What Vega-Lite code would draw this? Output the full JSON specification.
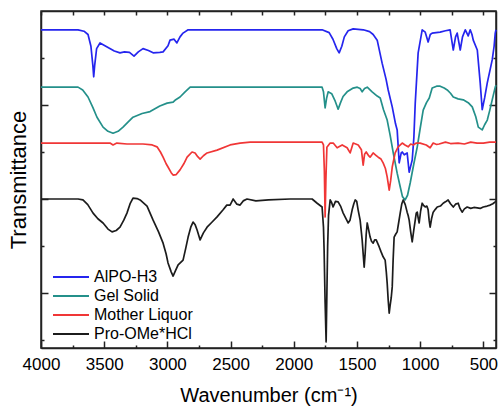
{
  "$schema": "https://vega.github.io/schema/vega-lite/v6.json",
  "description": "FTIR spectra of AlPO-H3, the gel solid, the mother liquor and Pro-OMe*HCl.",
  "width": 455,
  "height": 337,
  "autosize": {"type": "none"},
  "padding": {"left": 41, "top": 11, "right": 3, "bottom": 58},
  "background": "white",
  "config": {
    "font": "Liberation Sans",
    "view": {"stroke": "#222222", "strokeWidth": 1.5},
    "axis": {
      "grid": false,
      "domainColor": "#222222",
      "domainWidth": 1.5,
      "tickColor": "#222222",
      "tickWidth": 1.5,
      "labelFont": "Liberation Sans",
      "labelColor": "black",
      "labelFlush": false,
      "titleFont": "Liberation Sans",
      "titleColor": "black",
      "titleFontWeight": "normal"
    }
  },
  "data": {
    "values": [
      {"sample": "AlPO-H3", "wn": 4000, "t": 66.0},
      {"sample": "AlPO-H3", "wn": 3800, "t": 66.0},
      {"sample": "AlPO-H3", "wn": 3707, "t": 66.0},
      {"sample": "AlPO-H3", "wn": 3660, "t": 65.7},
      {"sample": "AlPO-H3", "wn": 3628, "t": 65.0},
      {"sample": "AlPO-H3", "wn": 3605, "t": 62.5},
      {"sample": "AlPO-H3", "wn": 3590, "t": 58.5},
      {"sample": "AlPO-H3", "wn": 3583, "t": 56.0},
      {"sample": "AlPO-H3", "wn": 3575, "t": 58.5},
      {"sample": "AlPO-H3", "wn": 3560, "t": 62.0},
      {"sample": "AlPO-H3", "wn": 3533, "t": 63.2},
      {"sample": "AlPO-H3", "wn": 3480, "t": 62.4},
      {"sample": "AlPO-H3", "wn": 3420, "t": 61.5},
      {"sample": "AlPO-H3", "wn": 3375, "t": 61.1},
      {"sample": "AlPO-H3", "wn": 3340, "t": 61.3},
      {"sample": "AlPO-H3", "wn": 3300, "t": 61.2},
      {"sample": "AlPO-H3", "wn": 3264, "t": 60.4},
      {"sample": "AlPO-H3", "wn": 3230, "t": 61.3},
      {"sample": "AlPO-H3", "wn": 3193, "t": 62.0},
      {"sample": "AlPO-H3", "wn": 3150, "t": 61.6},
      {"sample": "AlPO-H3", "wn": 3113, "t": 61.1},
      {"sample": "AlPO-H3", "wn": 3060, "t": 61.2},
      {"sample": "AlPO-H3", "wn": 3034, "t": 61.3},
      {"sample": "AlPO-H3", "wn": 2995, "t": 62.6},
      {"sample": "AlPO-H3", "wn": 2979, "t": 63.8},
      {"sample": "AlPO-H3", "wn": 2947, "t": 64.0},
      {"sample": "AlPO-H3", "wn": 2925, "t": 63.2},
      {"sample": "AlPO-H3", "wn": 2900, "t": 64.5},
      {"sample": "AlPO-H3", "wn": 2876, "t": 65.3},
      {"sample": "AlPO-H3", "wn": 2836, "t": 66.0},
      {"sample": "AlPO-H3", "wn": 2500, "t": 66.0},
      {"sample": "AlPO-H3", "wn": 2000, "t": 66.0},
      {"sample": "AlPO-H3", "wn": 1776, "t": 66.0},
      {"sample": "AlPO-H3", "wn": 1720, "t": 65.4},
      {"sample": "AlPO-H3", "wn": 1690, "t": 64.0},
      {"sample": "AlPO-H3", "wn": 1660, "t": 62.0},
      {"sample": "AlPO-H3", "wn": 1641, "t": 61.1},
      {"sample": "AlPO-H3", "wn": 1620, "t": 62.5},
      {"sample": "AlPO-H3", "wn": 1600, "t": 64.5},
      {"sample": "AlPO-H3", "wn": 1570, "t": 65.8},
      {"sample": "AlPO-H3", "wn": 1530, "t": 66.2},
      {"sample": "AlPO-H3", "wn": 1450, "t": 66.0},
      {"sample": "AlPO-H3", "wn": 1400, "t": 65.6},
      {"sample": "AlPO-H3", "wn": 1372, "t": 65.0},
      {"sample": "AlPO-H3", "wn": 1340, "t": 63.8},
      {"sample": "AlPO-H3", "wn": 1301, "t": 58.9},
      {"sample": "AlPO-H3", "wn": 1270, "t": 55.5},
      {"sample": "AlPO-H3", "wn": 1253, "t": 53.2},
      {"sample": "AlPO-H3", "wn": 1221, "t": 49.6},
      {"sample": "AlPO-H3", "wn": 1195, "t": 46.0},
      {"sample": "AlPO-H3", "wn": 1182, "t": 44.7},
      {"sample": "AlPO-H3", "wn": 1166, "t": 37.7},
      {"sample": "AlPO-H3", "wn": 1150, "t": 39.8},
      {"sample": "AlPO-H3", "wn": 1142, "t": 40.0},
      {"sample": "AlPO-H3", "wn": 1126, "t": 39.4},
      {"sample": "AlPO-H3", "wn": 1103, "t": 39.8},
      {"sample": "AlPO-H3", "wn": 1087, "t": 35.7},
      {"sample": "AlPO-H3", "wn": 1075, "t": 37.0},
      {"sample": "AlPO-H3", "wn": 1063, "t": 38.3},
      {"sample": "AlPO-H3", "wn": 1050, "t": 43.0},
      {"sample": "AlPO-H3", "wn": 1039, "t": 50.4},
      {"sample": "AlPO-H3", "wn": 1016, "t": 61.1},
      {"sample": "AlPO-H3", "wn": 984, "t": 66.0},
      {"sample": "AlPO-H3", "wn": 960, "t": 65.5},
      {"sample": "AlPO-H3", "wn": 937, "t": 63.4},
      {"sample": "AlPO-H3", "wn": 920, "t": 65.0},
      {"sample": "AlPO-H3", "wn": 905, "t": 65.3},
      {"sample": "AlPO-H3", "wn": 842, "t": 65.5},
      {"sample": "AlPO-H3", "wn": 800, "t": 65.8},
      {"sample": "AlPO-H3", "wn": 763, "t": 66.0},
      {"sample": "AlPO-H3", "wn": 738, "t": 61.7},
      {"sample": "AlPO-H3", "wn": 720, "t": 64.5},
      {"sample": "AlPO-H3", "wn": 707, "t": 65.3},
      {"sample": "AlPO-H3", "wn": 683, "t": 61.7},
      {"sample": "AlPO-H3", "wn": 665, "t": 64.5},
      {"sample": "AlPO-H3", "wn": 643, "t": 66.0},
      {"sample": "AlPO-H3", "wn": 620, "t": 64.7},
      {"sample": "AlPO-H3", "wn": 604, "t": 66.0},
      {"sample": "AlPO-H3", "wn": 590, "t": 65.0},
      {"sample": "AlPO-H3", "wn": 580, "t": 63.8},
      {"sample": "AlPO-H3", "wn": 548, "t": 61.7},
      {"sample": "AlPO-H3", "wn": 525, "t": 54.7},
      {"sample": "AlPO-H3", "wn": 509, "t": 49.0},
      {"sample": "AlPO-H3", "wn": 490, "t": 51.5},
      {"sample": "AlPO-H3", "wn": 469, "t": 54.7},
      {"sample": "AlPO-H3", "wn": 430, "t": 59.6},
      {"sample": "AlPO-H3", "wn": 415, "t": 62.5},
      {"sample": "AlPO-H3", "wn": 406, "t": 65.3},
      {"sample": "AlPO-H3", "wn": 400, "t": 66.0},

      {"sample": "Gel Solid", "wn": 4000, "t": 53.8},
      {"sample": "Gel Solid", "wn": 3800, "t": 53.8},
      {"sample": "Gel Solid", "wn": 3707, "t": 53.8},
      {"sample": "Gel Solid", "wn": 3670, "t": 53.2},
      {"sample": "Gel Solid", "wn": 3628, "t": 51.7},
      {"sample": "Gel Solid", "wn": 3590, "t": 49.5},
      {"sample": "Gel Solid", "wn": 3557, "t": 47.4},
      {"sample": "Gel Solid", "wn": 3509, "t": 45.3},
      {"sample": "Gel Solid", "wn": 3470, "t": 44.4},
      {"sample": "Gel Solid", "wn": 3430, "t": 44.0},
      {"sample": "Gel Solid", "wn": 3390, "t": 44.4},
      {"sample": "Gel Solid", "wn": 3351, "t": 45.3},
      {"sample": "Gel Solid", "wn": 3310, "t": 46.4},
      {"sample": "Gel Solid", "wn": 3272, "t": 47.4},
      {"sample": "Gel Solid", "wn": 3200, "t": 48.2},
      {"sample": "Gel Solid", "wn": 3137, "t": 48.6},
      {"sample": "Gel Solid", "wn": 3060, "t": 49.8},
      {"sample": "Gel Solid", "wn": 3002, "t": 50.4},
      {"sample": "Gel Solid", "wn": 2955, "t": 50.6},
      {"sample": "Gel Solid", "wn": 2940, "t": 51.0},
      {"sample": "Gel Solid", "wn": 2900, "t": 51.7},
      {"sample": "Gel Solid", "wn": 2860, "t": 52.8},
      {"sample": "Gel Solid", "wn": 2820, "t": 53.8},
      {"sample": "Gel Solid", "wn": 2500, "t": 53.8},
      {"sample": "Gel Solid", "wn": 2000, "t": 53.8},
      {"sample": "Gel Solid", "wn": 1776, "t": 53.8},
      {"sample": "Gel Solid", "wn": 1765, "t": 52.8},
      {"sample": "Gel Solid", "wn": 1752, "t": 49.4},
      {"sample": "Gel Solid", "wn": 1740, "t": 51.5},
      {"sample": "Gel Solid", "wn": 1728, "t": 52.8},
      {"sample": "Gel Solid", "wn": 1700, "t": 52.4},
      {"sample": "Gel Solid", "wn": 1675, "t": 51.0},
      {"sample": "Gel Solid", "wn": 1649, "t": 49.1},
      {"sample": "Gel Solid", "wn": 1630, "t": 50.5},
      {"sample": "Gel Solid", "wn": 1610, "t": 51.8},
      {"sample": "Gel Solid", "wn": 1578, "t": 52.8},
      {"sample": "Gel Solid", "wn": 1530, "t": 53.6},
      {"sample": "Gel Solid", "wn": 1498, "t": 53.8},
      {"sample": "Gel Solid", "wn": 1475, "t": 53.5},
      {"sample": "Gel Solid", "wn": 1459, "t": 52.8},
      {"sample": "Gel Solid", "wn": 1440, "t": 53.5},
      {"sample": "Gel Solid", "wn": 1419, "t": 53.8},
      {"sample": "Gel Solid", "wn": 1380, "t": 52.8},
      {"sample": "Gel Solid", "wn": 1340, "t": 51.9},
      {"sample": "Gel Solid", "wn": 1316, "t": 51.5},
      {"sample": "Gel Solid", "wn": 1290, "t": 49.0},
      {"sample": "Gel Solid", "wn": 1261, "t": 46.8},
      {"sample": "Gel Solid", "wn": 1237, "t": 43.5},
      {"sample": "Gel Solid", "wn": 1213, "t": 39.8},
      {"sample": "Gel Solid", "wn": 1182, "t": 35.5},
      {"sample": "Gel Solid", "wn": 1158, "t": 32.6},
      {"sample": "Gel Solid", "wn": 1140, "t": 30.5},
      {"sample": "Gel Solid", "wn": 1119, "t": 29.8},
      {"sample": "Gel Solid", "wn": 1100, "t": 30.8},
      {"sample": "Gel Solid", "wn": 1079, "t": 33.4},
      {"sample": "Gel Solid", "wn": 1050, "t": 37.5},
      {"sample": "Gel Solid", "wn": 1023, "t": 41.1},
      {"sample": "Gel Solid", "wn": 1000, "t": 45.0},
      {"sample": "Gel Solid", "wn": 976, "t": 48.9},
      {"sample": "Gel Solid", "wn": 950, "t": 50.5},
      {"sample": "Gel Solid", "wn": 928, "t": 51.5},
      {"sample": "Gel Solid", "wn": 905, "t": 53.6},
      {"sample": "Gel Solid", "wn": 870, "t": 54.0},
      {"sample": "Gel Solid", "wn": 842, "t": 54.0},
      {"sample": "Gel Solid", "wn": 810, "t": 53.6},
      {"sample": "Gel Solid", "wn": 786, "t": 53.2},
      {"sample": "Gel Solid", "wn": 760, "t": 52.5},
      {"sample": "Gel Solid", "wn": 738, "t": 51.7},
      {"sample": "Gel Solid", "wn": 700, "t": 51.3},
      {"sample": "Gel Solid", "wn": 659, "t": 51.1},
      {"sample": "Gel Solid", "wn": 620, "t": 50.5},
      {"sample": "Gel Solid", "wn": 588, "t": 49.6},
      {"sample": "Gel Solid", "wn": 560, "t": 47.5},
      {"sample": "Gel Solid", "wn": 540, "t": 45.3},
      {"sample": "Gel Solid", "wn": 509, "t": 44.7},
      {"sample": "Gel Solid", "wn": 490, "t": 45.8},
      {"sample": "Gel Solid", "wn": 469, "t": 46.8},
      {"sample": "Gel Solid", "wn": 450, "t": 48.8},
      {"sample": "Gel Solid", "wn": 430, "t": 51.1},
      {"sample": "Gel Solid", "wn": 406, "t": 53.8},
      {"sample": "Gel Solid", "wn": 400, "t": 54.2},

      {"sample": "Mother Liquor", "wn": 4000, "t": 41.9},
      {"sample": "Mother Liquor", "wn": 3600, "t": 41.9},
      {"sample": "Mother Liquor", "wn": 3454, "t": 41.9},
      {"sample": "Mother Liquor", "wn": 3430, "t": 41.5},
      {"sample": "Mother Liquor", "wn": 3400, "t": 41.9},
      {"sample": "Mother Liquor", "wn": 3320, "t": 41.7},
      {"sample": "Mother Liquor", "wn": 3193, "t": 41.7},
      {"sample": "Mother Liquor", "wn": 3120, "t": 41.5},
      {"sample": "Mother Liquor", "wn": 3082, "t": 41.1},
      {"sample": "Mother Liquor", "wn": 3055, "t": 40.0},
      {"sample": "Mother Liquor", "wn": 3034, "t": 38.9},
      {"sample": "Mother Liquor", "wn": 3010, "t": 37.5},
      {"sample": "Mother Liquor", "wn": 2995, "t": 36.8},
      {"sample": "Mother Liquor", "wn": 2970, "t": 35.6},
      {"sample": "Mother Liquor", "wn": 2955, "t": 35.1},
      {"sample": "Mother Liquor", "wn": 2930, "t": 35.2},
      {"sample": "Mother Liquor", "wn": 2900, "t": 36.2},
      {"sample": "Mother Liquor", "wn": 2870, "t": 37.5},
      {"sample": "Mother Liquor", "wn": 2844, "t": 38.9},
      {"sample": "Mother Liquor", "wn": 2805, "t": 40.0},
      {"sample": "Mother Liquor", "wn": 2781, "t": 39.8},
      {"sample": "Mother Liquor", "wn": 2760, "t": 39.0},
      {"sample": "Mother Liquor", "wn": 2741, "t": 38.5},
      {"sample": "Mother Liquor", "wn": 2715, "t": 39.2},
      {"sample": "Mother Liquor", "wn": 2686, "t": 39.8},
      {"sample": "Mother Liquor", "wn": 2607, "t": 40.4},
      {"sample": "Mother Liquor", "wn": 2504, "t": 41.5},
      {"sample": "Mother Liquor", "wn": 2425, "t": 41.9},
      {"sample": "Mother Liquor", "wn": 2345, "t": 42.1},
      {"sample": "Mother Liquor", "wn": 2000, "t": 42.1},
      {"sample": "Mother Liquor", "wn": 1776, "t": 42.1},
      {"sample": "Mother Liquor", "wn": 1765, "t": 41.5},
      {"sample": "Mother Liquor", "wn": 1758, "t": 36.0},
      {"sample": "Mother Liquor", "wn": 1752, "t": 26.2},
      {"sample": "Mother Liquor", "wn": 1746, "t": 34.0},
      {"sample": "Mother Liquor", "wn": 1738, "t": 41.0},
      {"sample": "Mother Liquor", "wn": 1712, "t": 41.9},
      {"sample": "Mother Liquor", "wn": 1688, "t": 41.9},
      {"sample": "Mother Liquor", "wn": 1657, "t": 40.9},
      {"sample": "Mother Liquor", "wn": 1617, "t": 41.5},
      {"sample": "Mother Liquor", "wn": 1578, "t": 40.9},
      {"sample": "Mother Liquor", "wn": 1554, "t": 39.8},
      {"sample": "Mother Liquor", "wn": 1530, "t": 41.9},
      {"sample": "Mother Liquor", "wn": 1490, "t": 41.5},
      {"sample": "Mother Liquor", "wn": 1465, "t": 40.5},
      {"sample": "Mother Liquor", "wn": 1451, "t": 37.2},
      {"sample": "Mother Liquor", "wn": 1440, "t": 39.5},
      {"sample": "Mother Liquor", "wn": 1427, "t": 40.0},
      {"sample": "Mother Liquor", "wn": 1410, "t": 39.3},
      {"sample": "Mother Liquor", "wn": 1396, "t": 38.9},
      {"sample": "Mother Liquor", "wn": 1372, "t": 39.8},
      {"sample": "Mother Liquor", "wn": 1350, "t": 39.3},
      {"sample": "Mother Liquor", "wn": 1332, "t": 38.9},
      {"sample": "Mother Liquor", "wn": 1310, "t": 38.5},
      {"sample": "Mother Liquor", "wn": 1293, "t": 37.7},
      {"sample": "Mother Liquor", "wn": 1275, "t": 36.5},
      {"sample": "Mother Liquor", "wn": 1261, "t": 34.7},
      {"sample": "Mother Liquor", "wn": 1245, "t": 31.9},
      {"sample": "Mother Liquor", "wn": 1233, "t": 34.0},
      {"sample": "Mother Liquor", "wn": 1221, "t": 36.8},
      {"sample": "Mother Liquor", "wn": 1198, "t": 39.8},
      {"sample": "Mother Liquor", "wn": 1174, "t": 41.1},
      {"sample": "Mother Liquor", "wn": 1142, "t": 41.9},
      {"sample": "Mother Liquor", "wn": 1120, "t": 41.5},
      {"sample": "Mother Liquor", "wn": 1095, "t": 41.1},
      {"sample": "Mother Liquor", "wn": 1075, "t": 41.7},
      {"sample": "Mother Liquor", "wn": 1055, "t": 41.5},
      {"sample": "Mother Liquor", "wn": 1030, "t": 41.9},
      {"sample": "Mother Liquor", "wn": 1000, "t": 41.9},
      {"sample": "Mother Liquor", "wn": 952, "t": 41.5},
      {"sample": "Mother Liquor", "wn": 921, "t": 40.9},
      {"sample": "Mother Liquor", "wn": 897, "t": 41.9},
      {"sample": "Mother Liquor", "wn": 870, "t": 41.6},
      {"sample": "Mother Liquor", "wn": 850, "t": 41.7},
      {"sample": "Mother Liquor", "wn": 800, "t": 42.1},
      {"sample": "Mother Liquor", "wn": 760, "t": 41.8},
      {"sample": "Mother Liquor", "wn": 700, "t": 41.9},
      {"sample": "Mother Liquor", "wn": 650, "t": 41.7},
      {"sample": "Mother Liquor", "wn": 600, "t": 42.1},
      {"sample": "Mother Liquor", "wn": 550, "t": 41.9},
      {"sample": "Mother Liquor", "wn": 500, "t": 41.9},
      {"sample": "Mother Liquor", "wn": 450, "t": 42.1},
      {"sample": "Mother Liquor", "wn": 400, "t": 42.1},

      {"sample": "Pro-OMe*HCl", "wn": 4000, "t": 30.0},
      {"sample": "Pro-OMe*HCl", "wn": 3800, "t": 30.0},
      {"sample": "Pro-OMe*HCl", "wn": 3707, "t": 30.0},
      {"sample": "Pro-OMe*HCl", "wn": 3668, "t": 29.8},
      {"sample": "Pro-OMe*HCl", "wn": 3630, "t": 28.8},
      {"sample": "Pro-OMe*HCl", "wn": 3588, "t": 27.0},
      {"sample": "Pro-OMe*HCl", "wn": 3550, "t": 25.8},
      {"sample": "Pro-OMe*HCl", "wn": 3509, "t": 24.9},
      {"sample": "Pro-OMe*HCl", "wn": 3470, "t": 23.6},
      {"sample": "Pro-OMe*HCl", "wn": 3438, "t": 23.0},
      {"sample": "Pro-OMe*HCl", "wn": 3405, "t": 23.3},
      {"sample": "Pro-OMe*HCl", "wn": 3375, "t": 24.0},
      {"sample": "Pro-OMe*HCl", "wn": 3345, "t": 25.5},
      {"sample": "Pro-OMe*HCl", "wn": 3320, "t": 27.0},
      {"sample": "Pro-OMe*HCl", "wn": 3295, "t": 29.0},
      {"sample": "Pro-OMe*HCl", "wn": 3272, "t": 30.2},
      {"sample": "Pro-OMe*HCl", "wn": 3240, "t": 30.1},
      {"sample": "Pro-OMe*HCl", "wn": 3216, "t": 29.8},
      {"sample": "Pro-OMe*HCl", "wn": 3161, "t": 28.5},
      {"sample": "Pro-OMe*HCl", "wn": 3113, "t": 25.5},
      {"sample": "Pro-OMe*HCl", "wn": 3070, "t": 23.0},
      {"sample": "Pro-OMe*HCl", "wn": 3034, "t": 20.6},
      {"sample": "Pro-OMe*HCl", "wn": 3010, "t": 18.3},
      {"sample": "Pro-OMe*HCl", "wn": 2995, "t": 16.4},
      {"sample": "Pro-OMe*HCl", "wn": 2970, "t": 14.5},
      {"sample": "Pro-OMe*HCl", "wn": 2955, "t": 13.6},
      {"sample": "Pro-OMe*HCl", "wn": 2935, "t": 14.8},
      {"sample": "Pro-OMe*HCl", "wn": 2915, "t": 16.0},
      {"sample": "Pro-OMe*HCl", "wn": 2876, "t": 17.0},
      {"sample": "Pro-OMe*HCl", "wn": 2855, "t": 19.5},
      {"sample": "Pro-OMe*HCl", "wn": 2836, "t": 21.9},
      {"sample": "Pro-OMe*HCl", "wn": 2815, "t": 24.0},
      {"sample": "Pro-OMe*HCl", "wn": 2797, "t": 25.1},
      {"sample": "Pro-OMe*HCl", "wn": 2780, "t": 24.5},
      {"sample": "Pro-OMe*HCl", "wn": 2765, "t": 23.4},
      {"sample": "Pro-OMe*HCl", "wn": 2741, "t": 21.3},
      {"sample": "Pro-OMe*HCl", "wn": 2715, "t": 22.8},
      {"sample": "Pro-OMe*HCl", "wn": 2686, "t": 24.0},
      {"sample": "Pro-OMe*HCl", "wn": 2650, "t": 25.0},
      {"sample": "Pro-OMe*HCl", "wn": 2607, "t": 26.2},
      {"sample": "Pro-OMe*HCl", "wn": 2559, "t": 27.7},
      {"sample": "Pro-OMe*HCl", "wn": 2530, "t": 28.7},
      {"sample": "Pro-OMe*HCl", "wn": 2504, "t": 28.7},
      {"sample": "Pro-OMe*HCl", "wn": 2480, "t": 30.0},
      {"sample": "Pro-OMe*HCl", "wn": 2450, "t": 28.9},
      {"sample": "Pro-OMe*HCl", "wn": 2425, "t": 28.7},
      {"sample": "Pro-OMe*HCl", "wn": 2400, "t": 29.6},
      {"sample": "Pro-OMe*HCl", "wn": 2370, "t": 30.0},
      {"sample": "Pro-OMe*HCl", "wn": 2300, "t": 29.6},
      {"sample": "Pro-OMe*HCl", "wn": 2200, "t": 29.8},
      {"sample": "Pro-OMe*HCl", "wn": 2029, "t": 30.0},
      {"sample": "Pro-OMe*HCl", "wn": 1855, "t": 30.0},
      {"sample": "Pro-OMe*HCl", "wn": 1815, "t": 29.1},
      {"sample": "Pro-OMe*HCl", "wn": 1776, "t": 28.3},
      {"sample": "Pro-OMe*HCl", "wn": 1765, "t": 24.0},
      {"sample": "Pro-OMe*HCl", "wn": 1760, "t": 19.1},
      {"sample": "Pro-OMe*HCl", "wn": 1752, "t": 8.0},
      {"sample": "Pro-OMe*HCl", "wn": 1744, "t": -0.4},
      {"sample": "Pro-OMe*HCl", "wn": 1738, "t": 10.0},
      {"sample": "Pro-OMe*HCl", "wn": 1732, "t": 20.0},
      {"sample": "Pro-OMe*HCl", "wn": 1725, "t": 26.5},
      {"sample": "Pro-OMe*HCl", "wn": 1712, "t": 29.8},
      {"sample": "Pro-OMe*HCl", "wn": 1700, "t": 29.2},
      {"sample": "Pro-OMe*HCl", "wn": 1689, "t": 28.3},
      {"sample": "Pro-OMe*HCl", "wn": 1670, "t": 29.5},
      {"sample": "Pro-OMe*HCl", "wn": 1649, "t": 29.4},
      {"sample": "Pro-OMe*HCl", "wn": 1630, "t": 28.5},
      {"sample": "Pro-OMe*HCl", "wn": 1609, "t": 27.0},
      {"sample": "Pro-OMe*HCl", "wn": 1590, "t": 26.0},
      {"sample": "Pro-OMe*HCl", "wn": 1570, "t": 24.9},
      {"sample": "Pro-OMe*HCl", "wn": 1555, "t": 25.5},
      {"sample": "Pro-OMe*HCl", "wn": 1538, "t": 27.7},
      {"sample": "Pro-OMe*HCl", "wn": 1525, "t": 29.0},
      {"sample": "Pro-OMe*HCl", "wn": 1514, "t": 29.8},
      {"sample": "Pro-OMe*HCl", "wn": 1502, "t": 29.5},
      {"sample": "Pro-OMe*HCl", "wn": 1491, "t": 27.7},
      {"sample": "Pro-OMe*HCl", "wn": 1475, "t": 25.5},
      {"sample": "Pro-OMe*HCl", "wn": 1459, "t": 21.3},
      {"sample": "Pro-OMe*HCl", "wn": 1450, "t": 18.0},
      {"sample": "Pro-OMe*HCl", "wn": 1443, "t": 15.5},
      {"sample": "Pro-OMe*HCl", "wn": 1435, "t": 18.5},
      {"sample": "Pro-OMe*HCl", "wn": 1427, "t": 22.5},
      {"sample": "Pro-OMe*HCl", "wn": 1419, "t": 24.9},
      {"sample": "Pro-OMe*HCl", "wn": 1408, "t": 23.5},
      {"sample": "Pro-OMe*HCl", "wn": 1396, "t": 21.9},
      {"sample": "Pro-OMe*HCl", "wn": 1385, "t": 21.0},
      {"sample": "Pro-OMe*HCl", "wn": 1372, "t": 20.6},
      {"sample": "Pro-OMe*HCl", "wn": 1360, "t": 21.3},
      {"sample": "Pro-OMe*HCl", "wn": 1348, "t": 21.3},
      {"sample": "Pro-OMe*HCl", "wn": 1335, "t": 20.5},
      {"sample": "Pro-OMe*HCl", "wn": 1324, "t": 19.8},
      {"sample": "Pro-OMe*HCl", "wn": 1310, "t": 18.8},
      {"sample": "Pro-OMe*HCl", "wn": 1293, "t": 17.7},
      {"sample": "Pro-OMe*HCl", "wn": 1277, "t": 17.0},
      {"sample": "Pro-OMe*HCl", "wn": 1268, "t": 14.5},
      {"sample": "Pro-OMe*HCl", "wn": 1261, "t": 12.1},
      {"sample": "Pro-OMe*HCl", "wn": 1253, "t": 8.5},
      {"sample": "Pro-OMe*HCl", "wn": 1245, "t": 5.7},
      {"sample": "Pro-OMe*HCl", "wn": 1237, "t": 7.5},
      {"sample": "Pro-OMe*HCl", "wn": 1229, "t": 9.0},
      {"sample": "Pro-OMe*HCl", "wn": 1221, "t": 11.3},
      {"sample": "Pro-OMe*HCl", "wn": 1214, "t": 17.0},
      {"sample": "Pro-OMe*HCl", "wn": 1206, "t": 21.9},
      {"sample": "Pro-OMe*HCl", "wn": 1194, "t": 22.5},
      {"sample": "Pro-OMe*HCl", "wn": 1182, "t": 23.0},
      {"sample": "Pro-OMe*HCl", "wn": 1170, "t": 25.0},
      {"sample": "Pro-OMe*HCl", "wn": 1158, "t": 27.0},
      {"sample": "Pro-OMe*HCl", "wn": 1145, "t": 29.0},
      {"sample": "Pro-OMe*HCl", "wn": 1134, "t": 29.8},
      {"sample": "Pro-OMe*HCl", "wn": 1118, "t": 28.8},
      {"sample": "Pro-OMe*HCl", "wn": 1103, "t": 27.2},
      {"sample": "Pro-OMe*HCl", "wn": 1095, "t": 26.5},
      {"sample": "Pro-OMe*HCl", "wn": 1087, "t": 25.5},
      {"sample": "Pro-OMe*HCl", "wn": 1075, "t": 23.0},
      {"sample": "Pro-OMe*HCl", "wn": 1063, "t": 20.9},
      {"sample": "Pro-OMe*HCl", "wn": 1050, "t": 23.5},
      {"sample": "Pro-OMe*HCl", "wn": 1039, "t": 25.5},
      {"sample": "Pro-OMe*HCl", "wn": 1031, "t": 27.0},
      {"sample": "Pro-OMe*HCl", "wn": 1023, "t": 27.2},
      {"sample": "Pro-OMe*HCl", "wn": 1016, "t": 26.0},
      {"sample": "Pro-OMe*HCl", "wn": 1008, "t": 24.9},
      {"sample": "Pro-OMe*HCl", "wn": 996, "t": 27.5},
      {"sample": "Pro-OMe*HCl", "wn": 984, "t": 29.1},
      {"sample": "Pro-OMe*HCl", "wn": 972, "t": 28.6},
      {"sample": "Pro-OMe*HCl", "wn": 960, "t": 28.3},
      {"sample": "Pro-OMe*HCl", "wn": 947, "t": 28.5},
      {"sample": "Pro-OMe*HCl", "wn": 937, "t": 27.7},
      {"sample": "Pro-OMe*HCl", "wn": 929, "t": 25.5},
      {"sample": "Pro-OMe*HCl", "wn": 921, "t": 24.0},
      {"sample": "Pro-OMe*HCl", "wn": 910, "t": 25.8},
      {"sample": "Pro-OMe*HCl", "wn": 897, "t": 27.2},
      {"sample": "Pro-OMe*HCl", "wn": 880, "t": 27.8},
      {"sample": "Pro-OMe*HCl", "wn": 865, "t": 28.3},
      {"sample": "Pro-OMe*HCl", "wn": 840, "t": 28.5},
      {"sample": "Pro-OMe*HCl", "wn": 818, "t": 29.1},
      {"sample": "Pro-OMe*HCl", "wn": 800, "t": 29.4},
      {"sample": "Pro-OMe*HCl", "wn": 779, "t": 29.8},
      {"sample": "Pro-OMe*HCl", "wn": 760, "t": 29.0},
      {"sample": "Pro-OMe*HCl", "wn": 738, "t": 28.3},
      {"sample": "Pro-OMe*HCl", "wn": 720, "t": 28.9},
      {"sample": "Pro-OMe*HCl", "wn": 699, "t": 29.1},
      {"sample": "Pro-OMe*HCl", "wn": 685, "t": 28.0},
      {"sample": "Pro-OMe*HCl", "wn": 668, "t": 27.2},
      {"sample": "Pro-OMe*HCl", "wn": 650, "t": 27.9},
      {"sample": "Pro-OMe*HCl", "wn": 628, "t": 28.3},
      {"sample": "Pro-OMe*HCl", "wn": 600, "t": 28.0},
      {"sample": "Pro-OMe*HCl", "wn": 575, "t": 28.2},
      {"sample": "Pro-OMe*HCl", "wn": 548, "t": 28.1},
      {"sample": "Pro-OMe*HCl", "wn": 525, "t": 28.0},
      {"sample": "Pro-OMe*HCl", "wn": 501, "t": 28.3},
      {"sample": "Pro-OMe*HCl", "wn": 470, "t": 28.5},
      {"sample": "Pro-OMe*HCl", "wn": 446, "t": 28.7},
      {"sample": "Pro-OMe*HCl", "wn": 425, "t": 29.0},
      {"sample": "Pro-OMe*HCl", "wn": 406, "t": 29.4},
      {"sample": "Pro-OMe*HCl", "wn": 400, "t": 29.6}
    ]
  },
  "layer": [
    {
      "mark": {"type": "line", "strokeWidth": 1.7, "strokeJoin": "round"},
      "encoding": {
        "x": {
          "field": "wn",
          "type": "quantitative",
          "scale": {"domain": [400, 4000], "reverse": true, "nice": false, "zero": false},
          "axis": {
            "orient": "bottom",
            "values": [500, 750, 1000, 1250, 1500, 1750, 2000, 2250, 2500, 2750, 3000, 3250, 3500, 3750, 4000],
            "format": "d",
            "labelExpr": "datum.value % 500 === 0 ? datum.label : ''",
            "labelFlush": false,
            "labelOverlap": false,
            "tickSize": {"condition": {"test": "datum.value % 500 === 0", "value": -7}, "value": -3},
            "labelFontSize": 17,
            "labelPadding": 15,
            "title": "Wavenumber (cm⁻¹)",
            "titleFontSize": 20,
            "titleBaseline": "alphabetic",
            "titleY": 53
          }
        },
        "y": {
          "field": "t",
          "type": "quantitative",
          "scale": {"domain": [-1.7, 70], "nice": false, "zero": false},
          "axis": {
            "orient": "left",
            "values": [0, 10, 20, 30, 40, 50, 60],
            "labels": false,
            "tickSize": {"condition": {"test": "datum.value % 20 === 10", "value": -7}, "value": -3},
            "title": "Transmittance",
            "titleFontSize": 22,
            "titleBaseline": "middle",
            "titleX": -23
          }
        },
        "color": {
          "field": "sample",
          "type": "nominal",
          "scale": {
            "domain": ["AlPO-H3", "Gel Solid", "Mother Liquor", "Pro-OMe*HCl"],
            "range": ["#2525ee", "#24908a", "#f03636", "#1c1c1c"]
          },
          "legend": {
            "orient": "none",
            "legendX": 20,
            "legendY": 256,
            "title": null,
            "symbolType": "M-2,0H2",
            "symbolSize": 324,
            "symbolStrokeWidth": 2,
            "labelFont": "Liberation Sans",
            "labelFontSize": 16,
            "labelColor": "black",
            "labelOffset": 13,
            "rowPadding": 1
          }
        }
      }
    },
    {
      "mark": {"type": "line", "opacity": 0},
      "encoding": {
        "x": {
          "field": "wn",
          "type": "quantitative",
          "scale": {"domain": [400, 4000], "reverse": true, "nice": false, "zero": false},
          "axis": {
            "orient": "top",
            "values": [500, 750, 1000, 1250, 1500, 1750, 2000, 2250, 2500, 2750, 3000, 3250, 3500, 3750, 4000],
            "labels": false,
            "tickSize": -4,
            "title": null
          }
        },
        "y": {
          "field": "t",
          "type": "quantitative",
          "scale": {"domain": [-1.7, 70], "nice": false, "zero": false},
          "axis": {
            "orient": "right",
            "values": [0, 10, 20, 30, 40, 50, 60],
            "labels": false,
            "tickSize": {"condition": {"test": "datum.value % 20 === 10", "value": -7}, "value": -3},
            "title": null
          }
        },
        "detail": {"field": "sample", "type": "nominal"}
      }
    }
  ],
  "resolve": {"axis": {"x": "independent", "y": "independent"}}
}
